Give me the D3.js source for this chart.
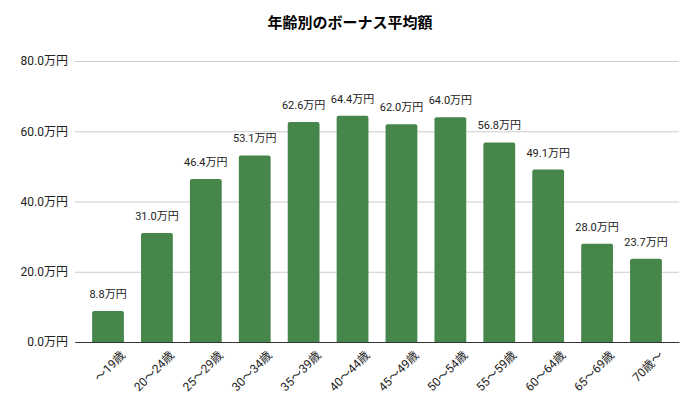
<!DOCTYPE html>
<html>
<head>
<meta charset="utf-8">
<script src="https://cdn.jsdelivr.net/npm/d3@7"></script>
<style>
  body { margin: 0; background: #fff; }
  text { font-family: Roboto, "Noto Sans CJK JP", sans-serif; }
</style>
</head>
<body>
<div id="chart"></div>
<script>
const title = '年齢別のボーナス平均額';
const categories = ['～19歳', '20～24歳', '25～29歳', '30～34歳', '35～39歳', '40～44歳',
  '45～49歳', '50～54歳', '55～59歳', '60～64歳', '65～69歳', '70歳～'];
const bonus = [8.8, 31.0, 46.4, 53.1, 62.6, 64.4, 62.0, 64.0, 56.8, 49.1, 28.0, 23.7];
const yTicks = [0, 20, 40, 60, 80];

const width = 700;
const height = 411;
const margin = { top: 61, right: 21, bottom: 69, left: 75 };
const color = '#47864a';

const svg = d3.select('#chart').append('svg')
  .attr('width', width)
  .attr('height', height);

svg.append('text')
  .attr('x', width / 2)
  .attr('y', 28)
  .attr('text-anchor', 'middle')
  .style('font-size', '15px')
  .style('font-weight', 'bold')
  .attr('fill', '#000')
  .text(title);

const xScale = d3.scaleBand()
  .domain(categories)
  .range([margin.left, width - margin.right])
  .paddingInner(0.35)
  .paddingOuter(0.35);

const yScale = d3.scaleLinear()
  .domain([0, 80])
  .range([height - margin.bottom, margin.top]);

// grid + y labels
const yAxis = d3.axisLeft(yScale)
  .tickValues(yTicks)
  .tickSize(-(width - margin.left - margin.right))
  .tickPadding(7)
  .tickFormat(d => d3.format('.1f')(d) + '万円');

const yAxisGroup = svg.append('g')
  .attr('transform', `translate(${margin.left},0)`)
  .call(yAxis);
yAxisGroup.select('.domain').remove();
yAxisGroup.selectAll('line').attr('stroke', '#cccccc');
yAxisGroup.selectAll('text')
  .style('font-size', '12px')
  .attr('fill', '#222');

// bars
svg.append('g').selectAll('path')
  .data(bonus)
  .join('path')
  .attr('fill', color)
  .attr('d', (d, i) => {
    const x0 = xScale(categories[i]);
    const w = xScale.bandwidth();
    const y0 = yScale(d);
    const y1 = yScale(0);
    const r = 2;
    return `M${x0},${y1}V${y0 + r}Q${x0},${y0} ${x0 + r},${y0}H${x0 + w - r}Q${x0 + w},${y0} ${x0 + w},${y0 + r}V${y1}Z`;
  });

// value labels
svg.append('g').selectAll('text')
  .data(bonus)
  .join('text')
  .attr('x', (d, i) => xScale(categories[i]) + xScale.bandwidth() / 2)
  .attr('y', d => yScale(d) - 13)
  .attr('text-anchor', 'middle')
  .style('font-size', '11px')
  .attr('fill', '#222')
  .text(d => d3.format('.1f')(d) + '万円');

// x axis
const xAxis = d3.axisBottom(xScale).tickSize(0).tickPadding(10);
const xAxisGroup = svg.append('g')
  .attr('transform', `translate(0,${height - margin.bottom})`)
  .call(xAxis);
xAxisGroup.select('.domain').attr('stroke', '#333').attr('stroke-width', 1.2);
xAxisGroup.selectAll('text')
  .style('font-size', '12px')
  .attr('fill', '#222')
  .attr('text-anchor', 'end')
  .attr('dy', '0.35em')
  .attr('transform', 'translate(8,4) rotate(-45)');
</script>
</body>
</html>
